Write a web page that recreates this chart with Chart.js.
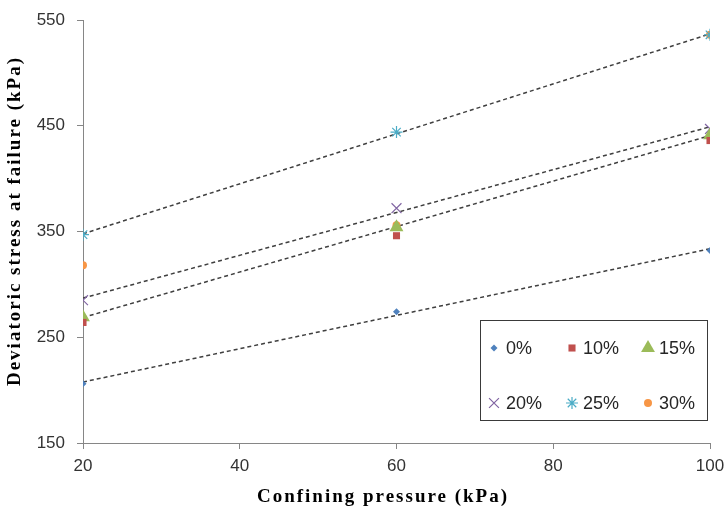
<!DOCTYPE html>
<html>
<head>
<meta charset="utf-8">
<script src="https://cdn.jsdelivr.net/npm/chart.js@4.4.1/dist/chart.umd.min.js"></script>
<style>
  html, body { margin: 0; padding: 0; background: #fff; }
</style>
</head>
<body>
<canvas id="myChart" width="726" height="514"></canvas>
<script>
// confining pressure (kPa) and deviatoric stress at failure (kPa) per mix
const pressure = [20, 60, 100];
const s0 = [206, 274, 332];
const s10 = [264, 346, 436];
const s15 = [269, 354, 441];
const s20 = [285, 372, 447];
const s25 = [347, 444, 536];
const s30 = [318, 356, 536];
const seriesLabels = ['0%', '10%', '15%', '20%', '25%', '30%'];
const xTicks = [20, 40, 60, 80, 100];
const yTicks = [150, 250, 350, 450, 550];

const toPoints = ys => ys.map((y, i) => ({ x: pressure[i], y }));

// least squares line over the pressure range
function trend(ys) {
    const n = pressure.length;
    const mx = pressure.reduce((a, b) => a + b) / n;
    const my = ys.reduce((a, b) => a + b) / n;
    let num = 0, den = 0;
    pressure.forEach((x, i) => {
        num += (x - mx) * (ys[i] - my);
        den += (x - mx) * (x - mx);
    });
    const b = num / den, a = my - b * mx;
    const x0 = pressure[0], x1 = pressure[n - 1];
    return [{ x: x0, y: a + b * x0 }, { x: x1, y: a + b * x1 }];
}

const markers = [
    { data: s0, color: '#4F81BD', style: 'rectRot', r: 3.5 },
    { data: s10, color: '#C0504D', style: 'rect', r: 5 },
    { data: s15, color: '#9BBB59', style: 'triangle', r: 8 },
    { data: s20, color: '#8064A2', style: 'crossRot', r: 7 },
    { data: s25, color: '#4BACC6', style: 'star', r: 6 },
    { data: s30, color: '#F79646', style: 'circle', r: 4 },
];

const datasets = markers.map((m, i) => ({
    label: seriesLabels[i],
    data: toPoints(m.data),
    showLine: false,
    pointStyle: m.style,
    pointRadius: m.r,
    pointHoverRadius: m.r,
    backgroundColor: m.color,
    borderColor: m.color,
    borderWidth: (m.style === 'crossRot' || m.style === 'star') ? 1.2 : 0,
}));

// dashed trend lines
[s0, s15, s20, s25].forEach(ys => {
    datasets.push({
        label: '',
        data: trend(ys),
        showLine: true,
        borderColor: '#3f3f3f',
        borderWidth: 1.5,
        borderDash: [4, 3],
        pointRadius: 0,
        fill: false,
    });
});

const legendBox = {
    id: 'legendBox',
    afterDraw(chart) {
        const ctx = chart.ctx;
        ctx.save();
        ctx.fillStyle = '#fff';
        ctx.strokeStyle = '#3a3a3a';
        ctx.lineWidth = 1;
        ctx.fillRect(480.5, 320.5, 227, 100);
        ctx.strokeRect(480.5, 320.5, 227, 100);
        const markX = [494, 572, 648];
        const textX = [506, 583, 659];
        const rowY = [348, 403];
        chart.data.datasets.slice(0, 6).forEach((ds, i) => {
            const c = i % 3, r = Math.floor(i / 3);
            ctx.fillStyle = ds.backgroundColor;
            ctx.strokeStyle = ds.borderColor;
            ctx.lineWidth = ds.borderWidth;
            Chart.helpers.drawPoint(ctx, {
                pointStyle: ds.pointStyle, radius: ds.pointRadius,
                rotation: 0, borderWidth: ds.borderWidth
            }, markX[c], rowY[r]);
            ctx.fillStyle = '#262626';
            ctx.font = '18px "Liberation Sans"';
            ctx.textBaseline = 'middle';
            ctx.textAlign = 'left';
            ctx.fillText(ds.label, textX[c], rowY[r] + 1);
        });
        ctx.restore();
    }
};

const axisTitles = {
    id: 'axisTitles',
    afterDraw(chart) {
        const ctx = chart.ctx;
        ctx.save();
        ctx.fillStyle = '#000';
        ctx.font = 'bold 19px "Liberation Serif"';
        ctx.letterSpacing = '2px';
        ctx.textAlign = 'center';
        ctx.textBaseline = 'middle';
        ctx.fillText('Confining pressure (kPa)', 383, 497);
        ctx.translate(15, 221);
        ctx.rotate(-Math.PI / 2);
        ctx.fillText('Deviatoric stress at failure (kPa)', 0, 0);
        ctx.restore();
    }
};

const ctx = document.getElementById('myChart').getContext('2d');

const chart = new Chart(ctx, {
    type: 'scatter',
    data: { datasets },
    plugins: [legendBox, axisTitles],
    options: {
        responsive: false,
        animation: false,
        layout: { padding: { top: 20, right: 16, left: 0, bottom: 0 } },
        plugins: {
            legend: { display: false },
            tooltip: { enabled: false },
        },
        scales: {
            x: {
                type: 'linear',
                min: 20,
                max: 100,
                afterBuildTicks: s => { s.ticks = xTicks.map(v => ({ value: v })); },
                afterFit: s => { s.height = 71; s.paddingLeft = 0; s.paddingRight = 0; },
                grid: { drawOnChartArea: false, drawTicks: true, tickLength: 6, color: '#868686' },
                border: { color: '#868686', width: 1 },
                ticks: { color: '#333', font: { family: 'Liberation Sans', size: 17 }, padding: 7, maxRotation: 0 },
            },
            y: {
                min: 150,
                max: 550,
                afterBuildTicks: s => { s.ticks = yTicks.map(v => ({ value: v })); },
                afterFit: s => { s.width = 83; s.paddingTop = 0; s.paddingBottom = 0; },
                grid: { drawOnChartArea: false, drawTicks: true, tickLength: 6, color: '#868686' },
                border: { color: '#868686', width: 1 },
                ticks: { color: '#333', font: { family: 'Liberation Sans', size: 17 }, padding: 12 },
            },
        },
    },
});
</script>
</body>
</html>
